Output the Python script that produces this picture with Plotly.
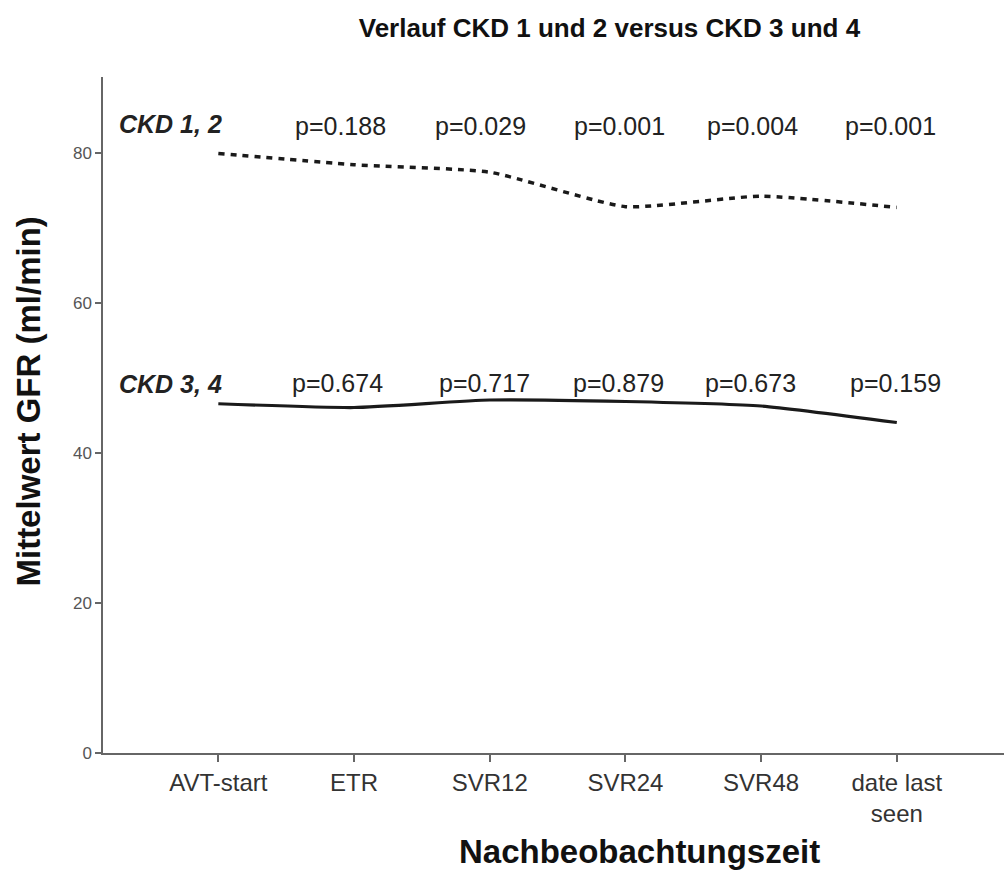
import plotly.graph_objects as go

categories = ["AVT-start", "ETR", "SVR12", "SVR24", "SVR48", "date last<br>seen"]
ckd12 = [80.0, 78.5, 77.5, 72.9, 74.3, 72.8]
ckd34 = [46.6, 46.1, 47.1, 46.9, 46.3, 44.1]
p_ckd12 = ["p=0.188", "p=0.029", "p=0.001", "p=0.004", "p=0.001"]
p_ckd34 = ["p=0.674", "p=0.717", "p=0.879", "p=0.673", "p=0.159"]
y_ticks = [0, 20, 40, 60, 80]

xs = list(range(len(categories)))
FONT = "Liberation Sans, Arial, sans-serif"

fig = go.Figure()
fig.add_trace(go.Scatter(x=xs, y=ckd12, mode="lines", name="CKD 1, 2",
                         line=dict(color="#1a1a1a", width=3.5, dash="6px,6px", shape="spline", smoothing=0.5)))
fig.add_trace(go.Scatter(x=xs, y=ckd34, mode="lines", name="CKD 3, 4",
                         line=dict(color="#1a1a1a", width=3.2, shape="spline", smoothing=0.5)))

ann = []
ann.append(dict(x=-0.35, y=83.9, text="<b><i>CKD 1, 2</i></b>", showarrow=False, xref="x", yref="y",
                font=dict(family=FONT, size=25, color="#222")))
ann.append(dict(x=-0.35, y=49.3, text="<b><i>CKD 3, 4</i></b>", showarrow=False, xref="x", yref="y",
                font=dict(family=FONT, size=25, color="#222")))
offs12 = [0.90, 1.93, 2.96, 3.94, 4.95]
offs34 = [0.88, 1.96, 2.95, 3.92, 4.99]
for i, t in enumerate(p_ckd12):
    ann.append(dict(x=offs12[i], y=83.6, text=t, showarrow=False, xref="x", yref="y",
                    font=dict(family=FONT, size=25, color="#222")))
for i, t in enumerate(p_ckd34):
    ann.append(dict(x=offs34[i], y=49.4, text=t, showarrow=False, xref="x", yref="y",
                    font=dict(family=FONT, size=25, color="#222")))
ann.append(dict(x=0.596, y=-0.145, xref="paper", yref="paper", xanchor="center", yanchor="middle",
                text="<b>Nachbeobachtungszeit</b>",
                showarrow=False, font=dict(family=FONT, size=33, color="#111")))
ann.append(dict(x=-0.0832, y=0.52, xref="paper", yref="paper", xanchor="center", yanchor="middle",
                text="<b>Mittelwert GFR (ml/min)</b>",
                showarrow=False, textangle=-90, font=dict(family=FONT, size=33, color="#111")))

fig.update_layout(
    width=1004, height=874, autosize=False,
    margin=dict(l=103, r=0, t=77, b=121),
    paper_bgcolor="white", plot_bgcolor="white",
    showlegend=False,
    title=dict(text="<b>Verlauf CKD 1 und 2 versus CKD 3 und 4</b>", x=0.607, xref="container",
               y=0.968, yref="container", xanchor="center", yanchor="middle",
               font=dict(family=FONT, size=26, color="#111")),
    annotations=ann,
    xaxis=dict(range=[-0.85, 5.79], tickmode="array", tickvals=xs, ticktext=categories,
               showline=True, linecolor="#666", linewidth=1.5, ticks="outside", ticklen=7,
               tickcolor="#666", tickwidth=1.5, showgrid=False, zeroline=False,
               tickfont=dict(family=FONT, size=24, color="#333")),
    yaxis=dict(range=[0, 90.2], tickmode="array", tickvals=y_ticks,
               showline=True, linecolor="#666", linewidth=1.5, ticks="outside", ticklen=6,
               tickcolor="#666", tickwidth=1.5, showgrid=False, zeroline=False,
               tickfont=dict(family=FONT, size=17, color="#555")),
)

fig.write_html("out.html", config={"displayModeBar": False},
               post_script="document.body.style.margin='0';document.body.style.overflow='hidden';")
